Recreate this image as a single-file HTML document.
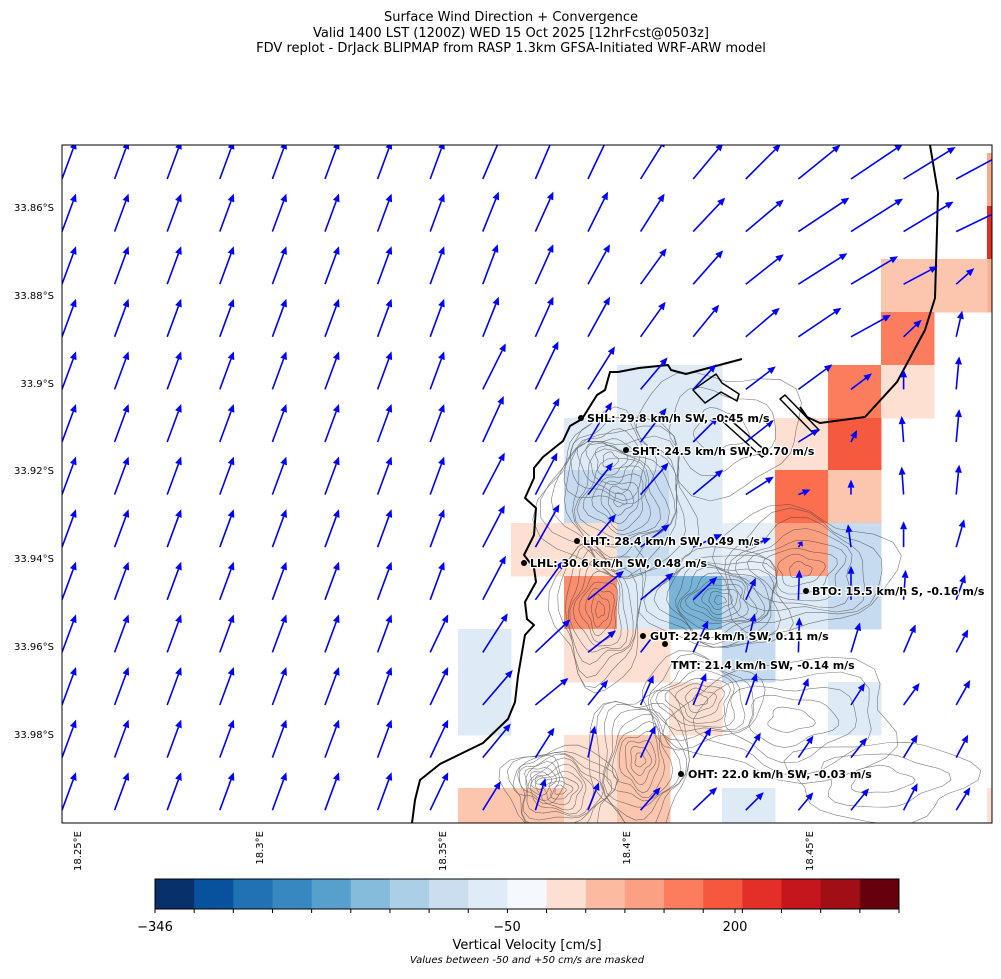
<!DOCTYPE html>
<html><head><meta charset="utf-8"><style>
html,body{margin:0;padding:0;background:#fff;}
body{width:1001px;height:974px;overflow:hidden;font-family:"Liberation Sans","DejaVu Sans",sans-serif;}
</style></head><body>
<svg id="s" width="1001" height="974" xmlns="http://www.w3.org/2000/svg" font-family="'DejaVu Sans','Liberation Sans',sans-serif">
<rect width="1001" height="974" fill="#fff"/>
<g font-size="13" text-anchor="middle" fill="#000">
<text x="511" y="21">Surface Wind Direction + Convergence</text>
<text x="511" y="37">Valid 1400 LST (1200Z) WED 15 Oct 2025 [12hrFcst@0503z]</text>
<text x="511" y="52">FDV replot - DrJack BLIPMAP from RASP 1.3km GFSA-Initiated WRF-ARW model</text>
</g>
<defs><clipPath id="cp"><rect x="62" y="145" width="930" height="678"/></clipPath></defs>
<g clip-path="url(#cp)">
<g id="cells"></g>
<g id="terrain" fill="none" stroke="#444" stroke-width="0.6" opacity="0.7"></g>
<g fill="none" stroke="#000" stroke-width="2" stroke-linejoin="round">
<polyline points="742,359 686,374 671,370 668,365 639,368 618,372 610,372 605,390 597,395 582,419 570,426 563,441 543,457 534,468 534,478 525,498 536,508 534,535 524,555 534,568 536,582 525,602 527,619 534,625 525,635 518,676 515,702 508,719 483,743 440,764 420,780 415,800 412,823"/>
<polyline points="930,145 938,193 937,230 935,298 925,330 897,382 865,417 820,423 807,417 800,407"/>
<polygon points="693,390 705,403 721,392 737,401 739,394 722,383 716,374" stroke-width="1.5"/>
<polygon points="721,420 762,457 768,453 726,416" stroke-width="1.5"/>
<polygon points="780,399 814,434 819,430 785,395" stroke-width="1.5"/>
</g>
<g id="arrows" stroke="#0000ff" fill="#0000ff" stroke-width="1.6"></g>
</g>
<rect x="62" y="145" width="930" height="678" fill="none" stroke="#000" stroke-width="1"/>
<g font-size="10" text-anchor="end" fill="#000">
<text x="54" y="211">33.86°S</text><text x="54" y="299">33.88°S</text><text x="54" y="387">33.9°S</text>
<text x="54" y="474">33.92°S</text><text x="54" y="562">33.94°S</text><text x="54" y="650">33.96°S</text><text x="54" y="738">33.98°S</text>
</g>
<g font-size="10" text-anchor="end" fill="#000">
<text transform="translate(81,831) rotate(-90)">18.25°E</text>
<text transform="translate(263,831) rotate(-90)">18.3°E</text>
<text transform="translate(446,831) rotate(-90)">18.35°E</text>
<text transform="translate(630,831) rotate(-90)">18.4°E</text>
<text transform="translate(813,831) rotate(-90)">18.45°E</text>
</g>
<g id="labels" font-size="11" font-weight="bold" font-family="'DejaVu Sans',sans-serif"></g>
<g id="cbar"></g>
<rect x="155" y="879" width="744" height="30" fill="none" stroke="#000" stroke-width="1"/>
<g font-size="13" text-anchor="middle" fill="#000">
<text x="155" y="931">−346</text><text x="507" y="931">−50</text><text x="735" y="931">200</text>
<text x="527" y="949">Vertical Velocity [cm/s]</text>
</g>
<text x="527" y="963" font-size="10" font-style="italic" text-anchor="middle">Values between -50 and +50 cm/s are masked</text>
</svg>
<script>
var NS="http://www.w3.org/2000/svg";
function el(p,t,a){var e=document.createElementNS(NS,t);for(var k in a)e.setAttribute(k,a[k]);p.appendChild(e);return e;}
var cells=[
[987,153,"#fca98a"],[987,206,"#e03020"],[987,259,"#fcae91"],
[881,259,"#fcc5ad"],[934,259,"#fcc5ad"],[881,312,"#fb7d5d"],
[828,365,"#fb7d5d"],[881,365,"#fee0d2"],[617,365,"#deebf7"],[669,365,"#deebf7"],
[564,418,"#deebf7"],[617,418,"#deebf7"],[669,418,"#deebf7"],[775,418,"#fee0d2"],[828,418,"#f5593e"],
[564,470,"#c6dbef"],[617,470,"#c6dbef"],[669,470,"#deebf7"],[775,470,"#fb6f4f"],[828,470,"#fcc5ad"],
[511,523,"#fee0d2"],[564,523,"#fee0d2"],[617,523,"#c6dbef"],[669,523,"#deebf7"],[722,523,"#e6eff8"],[775,523,"#fc9f80"],[828,523,"#c6dbef"],
[564,576,"#fb8c6c"],[617,576,"#deebf7"],[669,576,"#78b4d8"],[722,576,"#c6dbef"],[775,576,"#deebf7"],[828,576,"#c6dbef"],
[458,629,"#deebf7"],[564,629,"#fee0d2"],[617,629,"#fee0d2"],[722,629,"#c6dbef"],
[458,682,"#deebf7"],[669,682,"#fee0d2"],[828,682,"#deebf7"],
[564,735,"#fee0d2"],[617,735,"#fcc5ad"],
[458,788,"#fcc5ad"],[511,788,"#fcc5ad"],[564,788,"#fee0d2"],[617,788,"#fcc5ad"],[722,788,"#deebf7"],[987,788,"#fee0d2"]];
var cg=document.getElementById("cells");
cells.forEach(function(c){el(cg,"rect",{x:c[0],y:c[1],width:53.5,height:53.5,fill:c[2]});});
var tg=document.getElementById("terrain");
var peaks=[[620,500,75,80,12],[720,600,70,50,12],[600,610,45,75,10],[800,570,90,60,8],[560,790,55,45,10],[640,760,50,70,10],[700,700,60,45,8],[610,460,45,45,6],[790,720,110,60,5],[540,780,25,22,5],[880,780,90,40,3],[720,430,80,60,3]];
peaks.forEach(function(p){for(var i=1;i<=p[4];i++){var f=i/p[4];
var pts=[];for(var a=0;a<30;a++){var t=a/30*2*Math.PI;var r=1+0.12*Math.sin(3*t+i)+0.08*Math.cos(5*t+p[0]);
pts.push((p[0]+Math.cos(t)*p[2]*f*r).toFixed(1)+","+(p[1]+Math.sin(t)*p[3]*f*r).toFixed(1));}
el(tg,"polygon",{points:pts.join(" ")});}});
var R=[
[[18,-42],[18,-42],[20,-42],[25,-40],[30,-36],[35,-35],[42,-34],[52,-35],[52,-32],[52,-28]],
[[16,-40],[18,-40],[20,-40],[24,-38],[32,-34],[38,-32],[51,-34],[52,-33],[50,-30],[50,-24]],
[[15,-40],[18,-40],[22,-40],[26,-36],[30,-34],[38,-30],[49,-31],[47,-28],[34,-18],[18,-16]],
[[16,-40],[18,-40],[22,-40],[25,-35],[26,-32],[34,-29],[43,-29],[40,-22],[18,-17],[6,-26]],
[[23,-46],[23,-48],[27,-43],[27,-32],[23,-25],[30,-23],[34,-25],[21,-16],[0,-20],[3,-33]],
[[21,-46],[24,-44],[24,-40],[26,-34],[25,-25],[28,-22],[21,-13],[6,-12],[-2,-26],[3,-33]],
[[22,-42],[22,-42],[25,-32],[28,-32],[30,-25],[28,-18],[12,-5],[0,-15],[-2,-28],[3,-30]],
[[22,-42],[24,-43],[28,-33],[29,-23],[29,-13],[25,-9],[4,-6],[-3,-23],[0,-26],[8,-28]],
[[23,-44],[28,-39],[36,-29],[33,-27],[24,-23],[10,-22],[1,-30],[0,-34],[2,-30],[9,-25]],
[[25,-39],[35,-33],[28,-22],[17,-22],[15,-32],[9,-39],[1,-35],[9,-30],[12,-28],[12,-23]],
[[30,-35],[33,-27],[20,-25],[13,-30],[13,-32],[11,-32],[10,-27],[14,-22],[16,-22],[14,-25]],
[[28,-34],[19,-30],[7,-32],[15,-32],[18,-30],[15,-25],[15,-22],[16,-20],[14,-23],[12,-23]],
[[18,-29],[10,-32],[11,-28],[20,-23],[24,-23],[18,-18],[15,-18],[18,-22],[14,-27],[14,-23]]];
var ag=document.getElementById("arrows");
for(var j=0;j<13;j++){for(var i=0;i<18;i++){
var x=62+52.6*i,y=179+52.6*j,d;
if(i<8){d=(i==7&&j>=9)?[18,-38]:[14,-38];}else d=R[j][i-8];
var L=Math.sqrt(d[0]*d[0]+d[1]*d[1]);if(L<1)continue;
var ux=d[0]/L,uy=d[1]/L,hx=x+d[0],hy=y+d[1],hl=Math.min(8,L*0.6),hw=3.5;
var bx=hx-ux*hl,by=hy-uy*hl;
el(ag,"line",{x1:x,y1:y,x2:bx,y2:by});
el(ag,"polygon",{points:hx+","+hy+" "+(bx-uy*hw)+","+(by+ux*hw)+" "+(bx+uy*hw)+","+(by-ux*hw),stroke:"none"});
}}
var lb=document.getElementById("labels");
var L2=[[581,418,587,418,"SHL: 29.8 km/h SW, -0.45 m/s"],[626,450,632,451,"SHT: 24.5 km/h SW, -0.70 m/s"],
[577,541,583,541,"LHT: 28.4 km/h SW, 0.49 m/s"],[524,563,530,563,"LHL: 30.6 km/h SW, 0.48 m/s"],
[806,591,812,591,"BTO: 15.5 km/h S, -0.16 m/s"],[643,636,650,636,"GUT: 22.4 km/h SW, 0.11 m/s"],
[665,644,671,665,"TMT: 21.4 km/h SW, -0.14 m/s"],[681,774,688,774,"OHT: 22.0 km/h SW, -0.03 m/s"]];
L2.forEach(function(a){el(lb,"circle",{cx:a[0],cy:a[1],r:3,fill:"#000"});
var t=el(lb,"text",{x:a[2],y:a[3]+4,fill:"#000",stroke:"#fff","stroke-width":"2.5","paint-order":"stroke"});t.textContent=a[4];});
var cb=document.getElementById("cbar");
var cols=["#08306b","#08519c","#2171b5","#3787c0","#57a0ce","#85bcdc","#abd0e6","#cadef0","#dfebf7","#f5f9fe","#fee0d2","#fcbba1","#fca083","#fb7d5d","#f6583e","#e32f27","#c4161c","#a10e16","#67000d"];
for(var k=0;k<19;k++){var x0=155+k*744/19;el(cb,"rect",{x:x0,y:879,width:744/19+0.5,height:30,fill:cols[k]});
el(cb,"line",{x1:x0,y1:909,x2:x0,y2:913,stroke:"#000","stroke-width":1});}
el(cb,"line",{x1:899,y1:909,x2:899,y2:913,stroke:"#000","stroke-width":1});
el(cb,"line",{x1:735,y1:909,x2:735,y2:913,stroke:"#000","stroke-width":1});
</script>
</body></html>
